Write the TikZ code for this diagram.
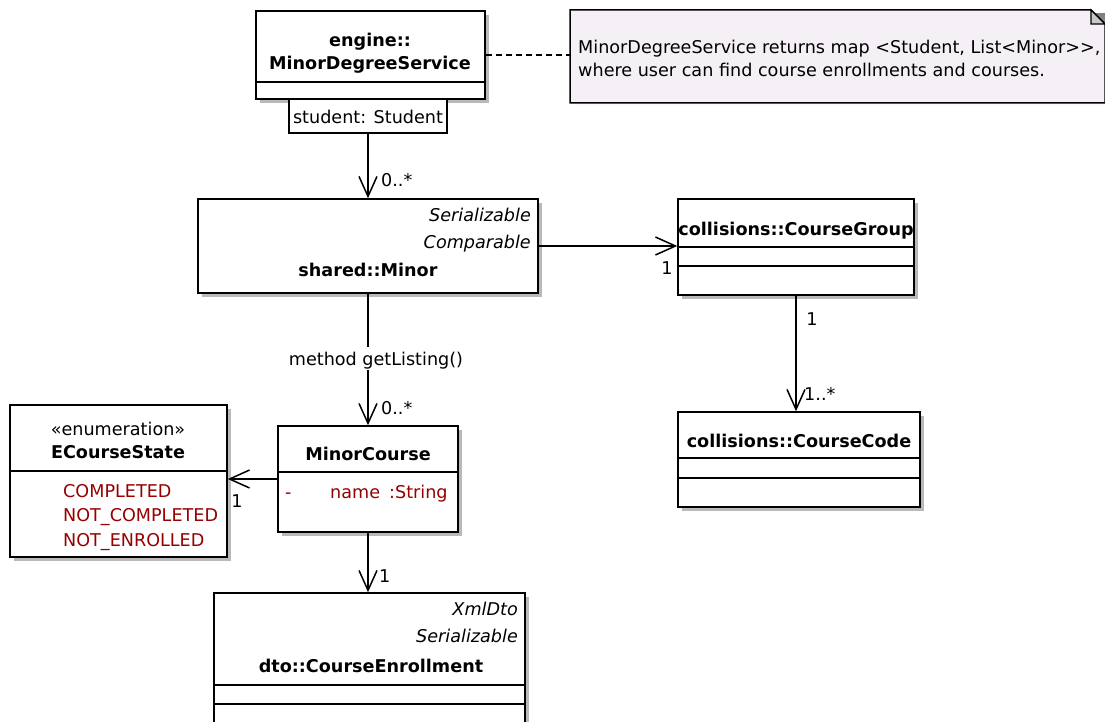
\documentclass[tikz,border=0pt]{standalone}
\usepackage{fontspec}
\setmainfont{DejaVu Sans}
\usetikzlibrary{arrows.meta,shadows}
\definecolor{notefill}{RGB}{245,240,245}
\definecolor{attr}{RGB}{150,0,0}
\definecolor{shade}{RGB}{185,185,185}
\definecolor{foldgray}{RGB}{200,200,200}
\begin{document}
\begin{tikzpicture}[x=1pt,y=-1pt,
  box/.style={draw, line width=1.5pt, fill=white, rectangle, inner sep=0pt,
    drop shadow={shadow xshift=4pt, shadow yshift=-4pt, fill=shade, opacity=1}},
  plainbox/.style={draw, line width=1.5pt, fill=white, rectangle, inner sep=0pt},
  sepline/.style={line width=1.3pt},
  txt/.style={inner sep=0pt, text height=15.5pt, text depth=1.5pt, font=\fontsize{17.6pt}{20pt}\selectfont},
  txtb/.style={txt, font=\fontsize{17.6pt}{20pt}\selectfont\bfseries},
  txti/.style={txt, font=\fontsize{17.6pt}{20pt}\selectfont\itshape},
  lit/.style={txt, text=attr, anchor=west},
  mult/.style={txt},
  conn/.style={line width=1.5pt, -{Straight Barb[length=20pt,width=18pt]}},
]
\clip (0,0) rectangle (1105,722);
\fill[white] (0,0) rectangle (1105,722);

% ---------- engine::MinorDegreeService ----------
\node[box, minimum width=229pt, minimum height=88pt] (eng) at (370.5,55) {};
\draw[sepline] (256,82) -- (485,82);
\node[txtb] (engt1) at (370,40) {engine::};
\node[txtb] (engt2) at (370,63) {MinorDegreeService};
\node[plainbox, minimum width=158pt, minimum height=34pt] (qual) at (368,116) {};
\node[txt] (qualt) at (368,117) {student: Student};

% ---------- note ----------
\node[minimum width=534pt, minimum height=93pt, inner sep=0pt] (note) at (837,57) {};
\fill[shade] (574,14) rectangle (1110,107);
\filldraw[fill=notefill, line width=1.5pt] (570,10) -- (1091,10) -- (1105,24) -- (1105,103) -- (570,103) -- cycle;
\filldraw[fill=foldgray, line width=1.2pt] (1091,10) -- (1091,24) -- (1105,24) -- cycle;
\node[txt, anchor=west] (notet1) at (578,47) {MinorDegreeService returns map <Student, List<Minor>\kern0pt>,};
\node[txt, anchor=west] (notet2) at (578,70) {where user can find course enrollments and courses.};

% ---------- shared::Minor ----------
\node[box, minimum width=340pt, minimum height=94pt] (minor) at (368,246) {};
\node[txti, anchor=east] (minort1) at (531,215) {Serializable};
\node[txti, anchor=east] (minort2) at (531,241) {Comparable};
\node[txtb] (minort3) at (368,269) {shared::Minor};

% ---------- collisions::CourseGroup ----------
\node[box, minimum width=236pt, minimum height=96pt] (cg) at (796,247) {};
\draw[sepline] (678,247) -- (914,247);
\draw[sepline] (678,266) -- (914,266);
\node[txtb] (cgt) at (796,228) {collisions::CourseGroup};

% ---------- collisions::CourseCode ----------
\node[box, minimum width=242pt, minimum height=95pt] (cc) at (799,459.5) {};
\draw[sepline] (678,458) -- (920,458);
\draw[sepline] (678,478) -- (920,478);
\node[txtb] (cct) at (799,440) {collisions::CourseCode};

% ---------- MinorCourse ----------
\node[box, minimum width=180pt, minimum height=106pt] (mc) at (368,479) {};
\draw[sepline] (278,472) -- (458,472);
\node[txtb] (mct) at (368,453) {MinorCourse};
\node[lit] (mca1) at (285,491) {-};
\node[lit] (mca2) at (330,491) {name};
\node[lit] (mca3) at (389,491) {:String};

% ---------- ECourseState ----------
\node[box, minimum width=217pt, minimum height=152pt] (ecs) at (118.5,481) {};
\draw[sepline] (10,471) -- (227,471);
\node[txt] (ecst1) at (118,428) {«enumeration»};
\node[txtb] (ecst2) at (118,451) {ECourseState};
\node[lit] (ecsl1) at (63,490) {COMPLETED};
\node[lit] (ecsl2) at (63,514) {NOT\_COMPLETED};
\node[lit] (ecsl3) at (63,539) {NOT\_ENROLLED};

% ---------- dto::CourseEnrollment ----------
\node[box, minimum width=311pt, minimum height=150pt] (ce) at (369.5,668) {};
\draw[sepline] (214,685) -- (525,685);
\draw[sepline] (214,704) -- (525,704);
\node[txti, anchor=east] (cet1) at (518,608) {XmlDto};
\node[txti, anchor=east] (cet2) at (518,635) {Serializable};
\node[txtb] (cet3) at (371,665) {dto::CourseEnrollment};

% ---------- connectors ----------
\draw[line width=1.3pt, dash pattern=on 6pt off 4pt] (eng.east) -- (eng.east -| note.west);
\draw[conn] (qual.south) -- (qual.south |- minor.north);
\node[mult, anchor=west] (m1) at (381,180) {0..*};

\draw[conn] (minor.east) -- (minor.east -| cg.west);
\node[mult] (m2) at (667,267) {1};

\draw[conn] (cg.south) -- (cg.south |- cc.north);
\node[mult] (m3) at (812,318) {1};
\node[mult, anchor=west] (m4) at (804,393) {1..*};

\draw[conn] (minor.south) -- (minor.south |- mc.north);
\node[txt, fill=white, inner ysep=3pt, inner xsep=1pt] (lbl) at (376,358) {method getListing()};
\node[mult, anchor=west] (m5) at (381,407) {0..*};

\draw[conn] (mc.west) -- (mc.west -| ecs.east);
\node[mult] (m6) at (237,500) {1};

\draw[conn] (mc.south) -- (mc.south |- ce.north);
\node[mult, anchor=west] (m7) at (379,575) {1};
\end{tikzpicture}
\end{document}
